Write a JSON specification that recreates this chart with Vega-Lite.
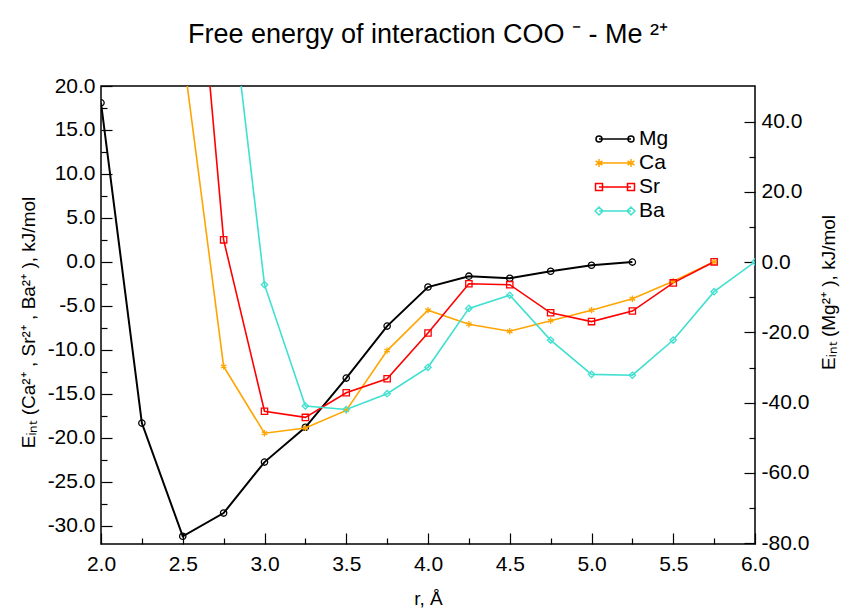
{
  "$schema": "https://vega.github.io/schema/vega-lite/v6.json",
  "width": 654,
  "height": 458,
  "autosize": "none",
  "padding": {"left": 101, "top": 86, "right": 93, "bottom": 66},
  "background": "white",
  "title": {"text": "Free energy of interaction COO ⁻ - Me ²⁺", "fontSize": 27, "fontWeight": "normal", "font": "Liberation Sans", "color": "#000", "anchor": "middle", "frame": "group", "baseline": "alphabetic", "offset": 5},
  "config": {
    "view": {"stroke": "#000", "strokeWidth": 1.5},
    "axis": {"domain": false, "grid": false, "tickColor": "#000", "tickWidth": 1.2, "labelFont": "Liberation Sans", "labelFontSize": 21, "labelColor": "#000", "titleFont": "Liberation Sans", "titleFontSize": 19, "titleFontWeight": "normal", "titleColor": "#000"}
  },
  "datasets": {
    "left": [
      {"r": 2.5, "E": 24.0, "ion": "Ca"}, {"r": 2.75, "E": -11.9, "ion": "Ca"}, {"r": 3.0, "E": -19.5, "ion": "Ca"}, {"r": 3.25, "E": -18.9, "ion": "Ca"}, {"r": 3.5, "E": -16.9, "ion": "Ca"}, {"r": 3.75, "E": -10.1, "ion": "Ca"}, {"r": 4.0, "E": -5.5, "ion": "Ca"}, {"r": 4.25, "E": -7.1, "ion": "Ca"}, {"r": 4.5, "E": -7.9, "ion": "Ca"}, {"r": 4.75, "E": -6.7, "ion": "Ca"}, {"r": 5.0, "E": -5.5, "ion": "Ca"}, {"r": 5.25, "E": -4.2, "ion": "Ca"}, {"r": 5.5, "E": -2.2, "ion": "Ca"}, {"r": 5.75, "E": 0.0, "ion": "Ca"},
      {"r": 2.5, "E": 55.0, "ion": "Sr"}, {"r": 2.75, "E": 2.5, "ion": "Sr"}, {"r": 3.0, "E": -17.0, "ion": "Sr"}, {"r": 3.25, "E": -17.7, "ion": "Sr"}, {"r": 3.5, "E": -14.9, "ion": "Sr"}, {"r": 3.75, "E": -13.3, "ion": "Sr"}, {"r": 4.0, "E": -8.1, "ion": "Sr"}, {"r": 4.25, "E": -2.5, "ion": "Sr"}, {"r": 4.5, "E": -2.6, "ion": "Sr"}, {"r": 4.75, "E": -5.8, "ion": "Sr"}, {"r": 5.0, "E": -6.8, "ion": "Sr"}, {"r": 5.25, "E": -5.6, "ion": "Sr"}, {"r": 5.5, "E": -2.4, "ion": "Sr"}, {"r": 5.75, "E": 0.0, "ion": "Sr"},
      {"r": 2.75, "E": 37.0, "ion": "Ba"}, {"r": 3.0, "E": -2.6, "ion": "Ba"}, {"r": 3.25, "E": -16.4, "ion": "Ba"}, {"r": 3.5, "E": -16.8, "ion": "Ba"}, {"r": 3.75, "E": -15.0, "ion": "Ba"}, {"r": 4.0, "E": -12.0, "ion": "Ba"}, {"r": 4.25, "E": -5.3, "ion": "Ba"}, {"r": 4.5, "E": -3.8, "ion": "Ba"}, {"r": 4.75, "E": -8.9, "ion": "Ba"}, {"r": 5.0, "E": -12.8, "ion": "Ba"}, {"r": 5.25, "E": -12.9, "ion": "Ba"}, {"r": 5.5, "E": -8.9, "ion": "Ba"}, {"r": 5.75, "E": -3.4, "ion": "Ba"}, {"r": 6.0, "E": 0.0, "ion": "Ba"}
    ],
    "mg": [
      {"r": 2.0, "E": 45.3, "ion": "Mg"}, {"r": 2.25, "E": -45.8, "ion": "Mg"}, {"r": 2.5, "E": -78.0, "ion": "Mg"}, {"r": 2.75, "E": -71.4, "ion": "Mg"}, {"r": 3.0, "E": -56.9, "ion": "Mg"}, {"r": 3.25, "E": -47.0, "ion": "Mg"}, {"r": 3.5, "E": -33.0, "ion": "Mg"}, {"r": 3.75, "E": -18.2, "ion": "Mg"}, {"r": 4.0, "E": -7.1, "ion": "Mg"}, {"r": 4.25, "E": -4.0, "ion": "Mg"}, {"r": 4.5, "E": -4.6, "ion": "Mg"}, {"r": 4.75, "E": -2.6, "ion": "Mg"}, {"r": 5.0, "E": -0.9, "ion": "Mg"}, {"r": 5.25, "E": 0.0, "ion": "Mg"}
    ]
  },
  "resolve": {"scale": {"x": "independent", "y": "independent", "color": "independent", "shape": "independent"}},
  "layer": [
    {
      "data": {"name": "mg"},
      "layer": [
        {
          "mark": {"type": "line", "clip": true, "strokeWidth": 2},
          "encoding": {
            "x": {"field": "r", "type": "quantitative", "scale": {"domain": [2, 6], "nice": false, "zero": false}, "axis": null},
            "y": {"field": "E", "type": "quantitative", "scale": {"domain": [-80.2, 50.1], "nice": false, "zero": false},
              "axis": {"orient": "right", "values": [-80, -60, -40, -20, 0, 20, 40], "labelExpr": "replace(format(datum.value, '.1f'), '−', '-')", "tickSize": -11, "labelPadding": 17, "labelOverlap": false, "labelFlush": false, "title": "Eᵢₙₜ (Mg²⁺ ), kJ/mol", "titleAngle": -90, "titleX": 73, "titleY": 206, "titleBaseline": "middle", "titleAlign": "center"}},
            "color": {"field": "ion", "type": "nominal", "scale": {"domain": ["Mg", "Ca", "Sr", "Ba"], "range": ["#000000", "#FFA500", "#FF0000", "#40E0D0"]}, "legend": null}
          }
        },
        {
          "mark": {"type": "point", "clip": true, "filled": false, "size": 40, "strokeWidth": 1.3, "opacity": 1},
          "encoding": {
            "x": {"field": "r", "type": "quantitative"},
            "y": {"field": "E", "type": "quantitative"},
            "color": {"field": "ion", "type": "nominal", "legend": null},
            "shape": {"field": "ion", "type": "nominal", "scale": {"domain": ["Mg", "Ca", "Sr", "Ba"], "range": ["circle", "M0,-1L0,1M-0.866,-0.5L0.866,0.5M-0.866,0.5L0.866,-0.5", "square", "diamond"]}, "legend": null}
          }
        }
      ]
    },
    {
      "data": {"name": "left"},
      "layer": [
        {
          "mark": {"type": "line", "clip": true, "strokeWidth": 1.6},
          "encoding": {
            "x": {"field": "r", "type": "quantitative", "scale": {"domain": [2, 6], "nice": false, "zero": false},
              "axis": {"orient": "bottom", "values": [2, 2.5, 3, 3.5, 4, 4.5, 5, 5.5, 6], "format": ".1f", "tickSize": -11, "labelPadding": 20, "labelFlush": false, "labelOverlap": false, "title": "r, Å", "titleX": 327, "titleY": 54, "titleBaseline": "middle"}},
            "y": {"field": "E", "type": "quantitative", "scale": {"domain": [-32.1, 20], "nice": false, "zero": false},
              "axis": {"orient": "left", "values": [-30, -25, -20, -15, -10, -5, 0, 5, 10, 15, 20], "labelExpr": "replace(format(datum.value, '.1f'), '−', '-')", "tickSize": -11, "labelPadding": 17, "labelFlush": false, "labelOverlap": false, "title": "Eᵢₙₜ (Ca²⁺ , Sr²⁺ , Ba²⁺ ), kJ/mol", "titleAngle": -90, "titleX": -73, "titleY": 236, "titleBaseline": "middle", "titleAlign": "center"}},
            "color": {"field": "ion", "type": "nominal", "scale": {"domain": ["Mg", "Ca", "Sr", "Ba"], "range": ["#000000", "#FFA500", "#FF0000", "#40E0D0"]}, "legend": null}
          }
        },
        {
          "mark": {"type": "point", "clip": true, "filled": false, "size": 40, "strokeWidth": 1.3, "opacity": 1},
          "encoding": {
            "x": {"field": "r", "type": "quantitative"},
            "y": {"field": "E", "type": "quantitative"},
            "color": {"field": "ion", "type": "nominal", "legend": null},
            "shape": {"field": "ion", "type": "nominal", "scale": {"domain": ["Mg", "Ca", "Sr", "Ba"], "range": ["circle", "M0,-1L0,1M-0.866,-0.5L0.866,0.5M-0.866,0.5L0.866,-0.5", "square", "diamond"]}, "legend": null}
          }
        }
      ]
    },
    {
      "data": {"name": "left"},
      "mark": {"type": "point", "opacity": 0, "clip": true},
      "encoding": {
        "x": {"field": "r", "type": "quantitative", "scale": {"domain": [2, 6], "nice": false, "zero": false},
          "axis": {"orient": "bottom", "values": [2.25, 2.75, 3.25, 3.75, 4.25, 4.75, 5.25, 5.75], "labels": false, "tickSize": -6, "title": null}},
        "y": {"field": "E", "type": "quantitative", "scale": {"domain": [-32.1, 20], "nice": false, "zero": false},
          "axis": {"orient": "left", "values": [-27.5, -22.5, -17.5, -12.5, -7.5, -2.5, 2.5, 7.5, 12.5, 17.5], "labels": false, "tickSize": -6, "title": null}}
      }
    },
    {
      "data": {"name": "mg"},
      "mark": {"type": "point", "opacity": 0, "clip": true},
      "encoding": {
        "x": {"field": "r", "type": "quantitative", "scale": {"domain": [2, 6], "nice": false, "zero": false}, "axis": null},
        "y": {"field": "E", "type": "quantitative", "scale": {"domain": [-80.2, 50.1], "nice": false, "zero": false},
          "axis": {"orient": "right", "values": [-70, -50, -30, -10, 10, 30], "labels": false, "tickSize": -6, "title": null}}
      }
    },
    {
      "data": {"name": "mg"},
      "mark": {"type": "point", "opacity": 0, "filled": false, "strokeWidth": 1.5, "size": 576},
      "encoding": {
        "color": {"field": "ion", "type": "nominal", "scale": {"domain": ["Mg", "Ca", "Sr", "Ba"], "range": ["#000000", "#FFA500", "#FF0000", "#40E0D0"]},
          "legend": {"orient": "none", "legendX": 501, "legendY": 40, "title": null, "padding": 0, "rowPadding": 1, "symbolSize": 576, "symbolOpacity": 1, "symbolStrokeWidth": 1.5, "labelFontSize": 21, "labelOffset": 11, "labelFont": "Liberation Sans", "labelColor": "#000"}},
        "shape": {"field": "ion", "type": "nominal", "scale": {"domain": ["Mg", "Ca", "Sr", "Ba"], "range": [
          "M-1.333,0L1.333,0M-1.583,0a0.25,0.25 0 1,0 0.5,0a0.25,0.25 0 1,0 -0.5,0M1.083,0a0.25,0.25 0 1,0 0.5,0a0.25,0.25 0 1,0 -0.5,0",
          "M-1.333,0L1.333,0M-1.333,-0.33L-1.333,0.33M-1.62,-0.165L-1.047,0.165M-1.62,0.165L-1.047,-0.165M1.333,-0.33L1.333,0.33M1.047,-0.165L1.62,0.165M1.047,0.165L1.62,-0.165",
          "M-1.333,0L1.333,0M-1.623,-0.29h0.58v0.58h-0.58zM1.043,-0.29h0.58v0.58h-0.58z",
          "M-1.333,0L1.333,0M-1.663,0L-1.333,-0.33L-1.003,0L-1.333,0.33zM1.003,0L1.333,-0.33L1.663,0L1.333,0.33z"]}}
      }
    }
  ]
}
